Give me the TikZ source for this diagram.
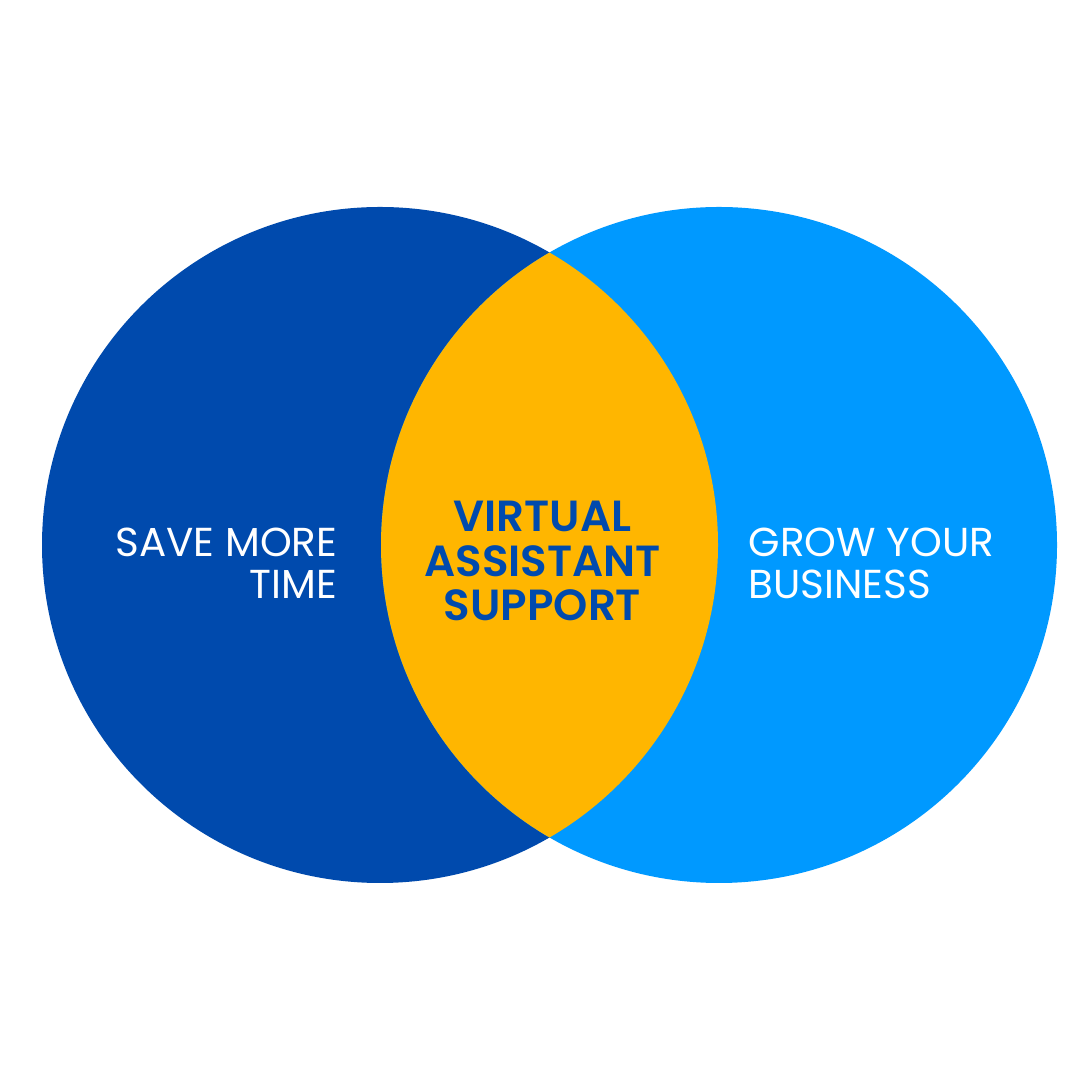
\documentclass[tikz,border=0pt]{standalone}
\usepackage{fontspec}
\setmainfont{Poppins}
\newfontfamily\semifont{Poppins SemiBold}
\definecolor{leftblue}{HTML}{004AAD}
\definecolor{rightblue}{HTML}{0099FF}
\definecolor{lensgold}{HTML}{FFB600}
\tikzset{
  sidetext/.style={text=white, font=\fontsize{11.5}{12}\selectfont, inner sep=0pt},
  midtext/.style={text=leftblue, font=\semifont\fontsize{12.4}{12.7}\selectfont, align=center, inner sep=0pt}
}
\begin{document}
\begin{tikzpicture}
			%%%%% START %%%%%
			\useasboundingbox[fill=white] (0, 0) rectangle (10.8, 10.8);
			
			\fill[color=leftblue] (3.80, 5.35) circle (3.38);
			\fill[color=rightblue] (7.19, 5.35) circle (3.38);
			
			\begin{scope}
				\clip (3.80, 5.35) circle (3.38);
				\fill[color=lensgold] (7.19, 5.35) circle (3.38);
			\end{scope}
			
			\node[sidetext, align=right, anchor=east] (savetime) at (3.38, 5.17) {SAVE MORE\\TIME};
			\node[sidetext, align=left, anchor=west] (growbiz) at (7.48, 5.17) {GROW YOUR\\BUSINESS};
			\node[midtext] (vasupport) at (5.425, 5.19) {VIRTUAL\\ASSISTANT\\SUPPORT};
			
			%%%%% END %%%%%
\end{tikzpicture}
\end{document}
